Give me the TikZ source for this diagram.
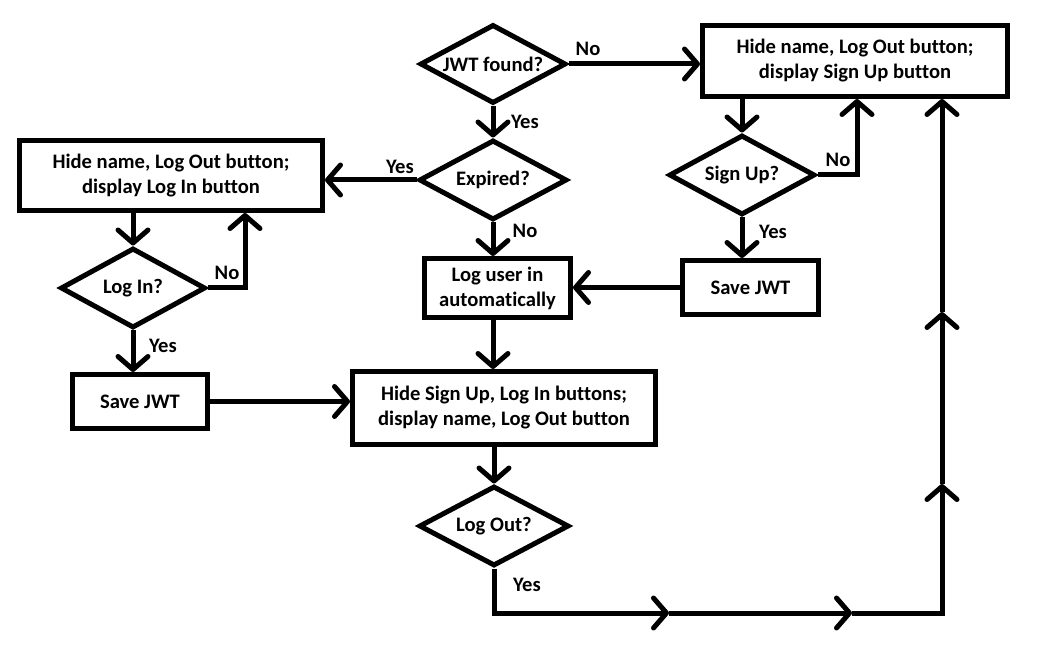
\documentclass[tikz,border=0pt]{standalone}
\usepackage{fontspec}
\setmainfont{Carlito}[Ligatures=NoCommon]
\usetikzlibrary{calc}
\usetikzlibrary{shapes}
\usetikzlibrary{arrows.meta}
\tikzset{
  box/.style={draw, line width=2.5pt, rectangle, align=center, inner sep=0pt},
  choice/.style={draw, line width=2.5pt, diamond, aspect=1.8, inner sep=0pt},
  flow/.style={line width=2.5pt, line join=miter, -{Straight Barb[length=6.5pt,width=15pt,round]}},
  wire/.style={line width=2.5pt, line join=miter}
}
\newcommand{\branchlbl}[4]{\node (#1) at (#2,#3) {#4};}

\begin{document}
\begin{tikzpicture}[x=0.5pt,y=-0.5pt,font=\fontsize{10.3}{12.5}\selectfont\bfseries]
        \useasboundingbox (0,0) rectangle (1039,646);
        %nodes
        \node[choice, minimum width=73pt, minimum height=39.5pt] (jwt) at (493,64) {JWT found?};
        \node[choice, minimum width=74pt, minimum height=40pt] (expired) at (493,180) {Expired?};
        \node[choice, minimum width=73pt, minimum height=40pt] (signup) at (742,175) {Sign Up?};
        \node[choice, minimum width=72.5pt, minimum height=40pt] (login) at (133,288) {Log In?};
        \node[choice, minimum width=75pt, minimum height=40pt] (logout) at (494,526) {Log Out?};
        
        \node[box, minimum width=152.5pt, minimum height=35.5pt] (showsignup) at (855,61) {Hide name, Log Out button;\\display Sign Up button};
        \node[box, minimum width=151.5pt, minimum height=35pt] (showlogin) at (171,175.5) {Hide name, Log Out button;\\display Log In button};
        \node[box, minimum width=67.5pt, minimum height=27pt] (savel) at (140,401.5) {Save JWT};
        \node[box, minimum width=68pt, minimum height=27pt] (saves) at (750.5,287.5) {Save JWT};
        \node[box, minimum width=73pt, minimum height=29.5pt] (auto) at (497.5,288) {Log user in\\automatically};
        \node[box, minimum width=151.5pt, minimum height=36.5pt] (showname) at (504,408) {Hide Sign Up, Log In buttons;\\display name, Log Out button};
        
        \coordinate (turna) at (494,613);
        \coordinate (mida) at (669,613);
        \coordinate (midb) at (852,613);
        \coordinate (midc) at (942,484);
        \coordinate (midd) at (942,312);
        
        %edges
        \draw[flow] (jwt.east) -- (jwt.east -| showsignup.west);
        \draw[flow] (jwt.south) -- (expired.north);
        \draw[flow] (expired.west) -- (expired.west -| showlogin.east);
        \draw[flow] (expired.south) -- (expired.south |- auto.north);
        \draw[flow] (login |- showlogin.south) -- (login.north);
        \draw[flow] (login.east) -| ($(login |- showlogin.south)+(112,0)$);
        \draw[flow] (login.south) -- (login |- savel.north);
        \draw[flow] (savel.east) -- (savel.east -| showname.west);
        \draw[flow] (signup |- showsignup.south) -- (signup.north);
        \draw[flow] (signup.east) -| ($(signup |- showsignup.south)+(115,0)$);
        \draw[flow] (signup.south) -- (signup |- saves.north);
        \draw[flow] (saves.west) -- (saves.west -| auto.east);
        \draw[flow] (expired |- auto.south) -- (expired |- showname.north);
        \draw[flow] (logout |- showname.south) -- (logout.north);
        \draw[flow] (logout.south) |- (mida);
        \draw[flow] (mida) -- (midb);
        \draw[flow] (midb) -| (midc);
        \draw[flow] (midc) -- (midd);
        \draw[flow] (midd) -- (midd |- showsignup.south);
        
        %labels
        \branchlbl{nojwt}{588}{49}{No}
        \branchlbl{yesjwt}{525}{122}{Yes}
        \branchlbl{yesexp}{400}{167}{Yes}
        \branchlbl{noexp}{525}{231}{No}
        \branchlbl{nologin}{227}{273}{No}
        \branchlbl{yeslogin}{163}{346}{Yes}
        \branchlbl{nosignup}{838}{160}{No}
        \branchlbl{yessignup}{773}{232}{Yes}
        \branchlbl{yeslogout}{527}{585}{Yes}
        
\end{tikzpicture}
\end{document}
